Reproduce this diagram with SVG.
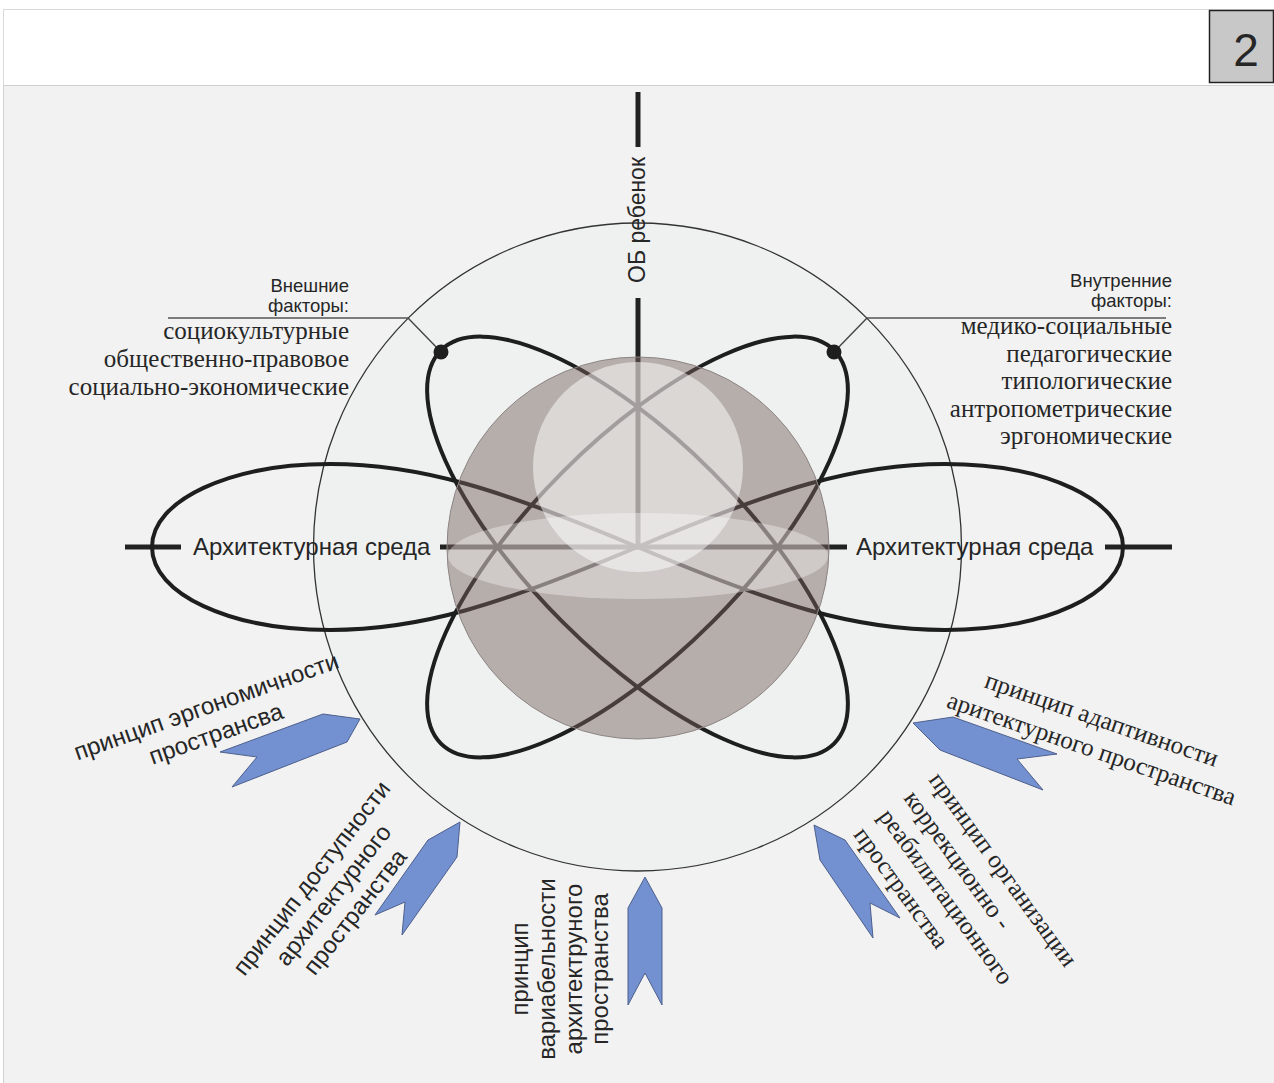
<svg xmlns="http://www.w3.org/2000/svg" width="1274" height="1083" viewBox="0 0 1274 1083">
<style>
.sans{font-family:"Liberation Sans",Arial,sans-serif;fill:#262626}
.serif{font-family:"Liberation Serif","Times New Roman",serif;fill:#262626}
.orbit{fill:none;stroke:#1e1e1e;stroke-width:4}
.axis{stroke:#222;stroke-width:5;fill:none}
.thin{stroke:#444;stroke-width:1.4;fill:none}
.arrow{fill:#7391d0;stroke:#4d5f8c;stroke-width:1}
</style>
<rect x="0" y="0" width="1274" height="1083" fill="#ffffff"/>
<rect x="3.5" y="9.5" width="1272" height="76" fill="#ffffff" stroke="#dadada"/>
<rect x="3.5" y="85.5" width="1272" height="1000" fill="#f2f2f2" stroke="#d0d0d0"/>
<g id="page-number">
<rect x="1209.5" y="10.5" width="64" height="72" fill="#c8c8c8" stroke="#222" stroke-width="1.5"/>
<text x="1246" y="66" class="sans" font-size="46" text-anchor="middle" fill="#111">2</text>
</g>
<g id="outer-circle">
<circle cx="637.5" cy="547" r="324" fill="#eff1f1" stroke="#333" stroke-width="1.3"/>
</g>
<g id="connectors">
<line x1="168" y1="318" x2="408" y2="318" stroke="#555" stroke-width="1.5"/>
<line x1="408" y1="318" x2="441" y2="352" class="thin"/>
<line x1="867" y1="318" x2="1166" y2="318" stroke="#555" stroke-width="1.5"/>
<line x1="867" y1="318" x2="834" y2="352" class="thin"/>
<line x1="638" y1="92" x2="638" y2="147" class="axis"/>
<line x1="638" y1="298" x2="638" y2="547" class="axis"/>
<line x1="125" y1="547" x2="181" y2="547" class="axis"/>
<line x1="440" y1="547" x2="847" y2="547" class="axis"/>
<line x1="1105" y1="547" x2="1172" y2="547" class="axis"/>
</g>
<g id="orbits">
<path class="orbit" d="M637.5 547 C500 489 420 464 330 464 C230 464 152 500 152 547 C152 594 230 630 330 630 C420 630 500 605 637.5 547 C775 489 855 464 945 464 C1045 464 1123 500 1123 547 C1123 594 1045 630 945 630 C855 630 775 605 637.5 547 Z"/>
<ellipse class="orbit" cx="637.5" cy="547" rx="278" ry="106" transform="rotate(45 637.5 547)"/>
<ellipse class="orbit" cx="637.5" cy="547" rx="278" ry="106" transform="rotate(-45 637.5 547)"/>
<circle cx="441" cy="352" r="7.5" fill="#1e1e1e"/>
<circle cx="834" cy="352" r="7.5" fill="#1e1e1e"/>
</g>
<g id="sphere">
<circle cx="638" cy="548" r="191" fill="#77625b" fill-opacity="0.47" stroke="#8d8583" stroke-width="1"/>
<circle cx="638" cy="467" r="105" fill="#ffffff" fill-opacity="0.5"/>
<ellipse cx="638" cy="556" rx="190" ry="43" fill="#ffffff" fill-opacity="0.35"/>
</g>
<g id="axis-labels">
<text class="sans" font-size="23" text-anchor="middle" transform="translate(645 220) rotate(-90)">ОБ ребенок</text>
<text class="sans" font-size="24" x="193" y="555">Архитектурная среда</text>
<text class="sans" font-size="24" x="856" y="555">Архитектурная среда</text>
</g>
<g id="external-factors" text-anchor="end">
<text class="sans" font-size="18.5" x="349" y="292">Внешние</text>
<text class="sans" font-size="18.5" x="349" y="312">факторы:</text>
<text class="serif" font-size="25" x="349" y="339">социокультурные</text>
<text class="serif" font-size="25" x="349" y="367">общественно-правовое</text>
<text class="serif" font-size="25" x="349" y="395">социально-экономические</text>
</g>
<g id="internal-factors" text-anchor="end">
<text class="sans" font-size="18.5" x="1172" y="287">Внутренние</text>
<text class="sans" font-size="18.5" x="1172" y="307">факторы:</text>
<text class="serif" font-size="25" x="1172" y="334">медико-социальные</text>
<text class="serif" font-size="25" x="1172" y="362">педагогические</text>
<text class="serif" font-size="25" x="1172" y="389">типологические</text>
<text class="serif" font-size="25" x="1172" y="417">антропометрические</text>
<text class="serif" font-size="25" x="1172" y="444">эргономические</text>
</g>
<g id="principle-ergonomics">
<polygon class="arrow" points="360,719 323,714 220,752 257,757 232,787 347,742"/>
<g transform="translate(209 714) rotate(-19.5)" text-anchor="middle">
<text class="sans" font-size="24" x="0" y="0">принцип эргономичности</text>
<text class="sans" font-size="24" x="0" y="29">пространсва</text>
</g>
</g>
<g id="principle-adaptivity">
<polygon class="arrow" points="913,723 953,717 1057,754 1017,759 1043,790 940,750"/>
<g transform="translate(1099 727) rotate(19)" text-anchor="middle">
<text class="serif" font-size="25" x="0" y="0">принцип адаптивности</text>
<text class="serif" font-size="25" x="0" y="31">аритектурного пространства</text>
</g>
</g>
<g id="principle-accessibility">
<polygon class="arrow" points="460,822 428,840 375,915 405,902 402,935 457,857"/>
<g transform="translate(318 883) rotate(-52)" text-anchor="middle">
<text class="sans" font-size="24" x="0" y="0">принцип доступности</text>
<text class="sans" font-size="24" x="0" y="27.5">архитектурного</text>
<text class="sans" font-size="24" x="0" y="55">пространства</text>
</g>
</g>
<g id="principle-variability">
<polygon class="arrow" points="645,877 628,908 628,1005 645,973 662,1005 662,908"/>
<g transform="translate(0 969)" text-anchor="middle">
<text class="sans" font-size="24" transform="translate(528 0) rotate(-90)">принцип</text>
<text class="sans" font-size="24" transform="translate(555 0) rotate(-90)">вариабельности</text>
<text class="sans" font-size="24" transform="translate(582 0) rotate(-90)">архитектруного</text>
<text class="sans" font-size="24" transform="translate(608 0) rotate(-90)">пространства</text>
</g>
</g>
<g id="principle-correction">
<polygon class="arrow" points="814,825 845,840 900,918 870,903 873,938 820,860"/>
<g transform="translate(928 780) rotate(54)">
<text class="serif" font-size="25" x="0" y="0">принцип организации</text>
<text class="serif" font-size="25" x="0" y="31">коррекционно -</text>
<text class="serif" font-size="25" x="0" y="62">реабилитационного</text>
<text class="serif" font-size="25" x="0" y="93">пространства</text>
</g>
</g>
</svg>
